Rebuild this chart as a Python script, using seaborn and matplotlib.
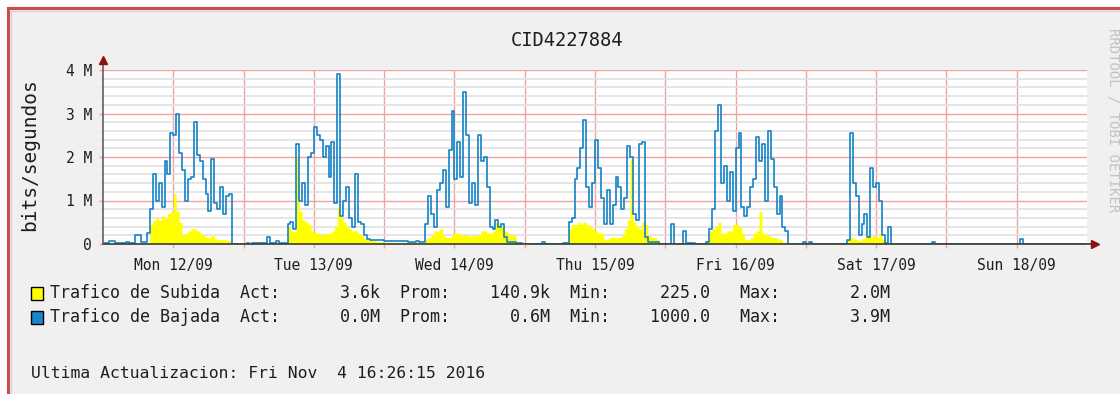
import numpy as np
import pandas as pd
import matplotlib
matplotlib.use("Agg")
import matplotlib.pyplot as plt
from matplotlib.patches import Rectangle
import seaborn as sns

# ---------------------------------------------------------------
# Traffic samples, one value every 30 minutes, in Mbit/s
# (week Mon 12/09 00:00 -> Mon 19/09 00:00)
# ---------------------------------------------------------------
bajada_lun = [0.02, 0.02, 0.08, 0.08, 0.02, 0.02, 0.02, 0.02, 0.04, 0.02,
              0.03, 0.20, 0.20, 0.05, 0.05, 0.25, 0.80, 1.60, 1.00, 1.40,
              0.85, 1.90, 1.60, 2.55, 2.50, 3.00, 2.10, 1.70, 1.00, 1.50,
              1.55, 2.80, 2.05, 1.90, 1.50, 1.15, 0.75, 1.95, 0.95, 0.80,
              1.30, 0.70, 1.10, 1.15, 0.003, 0.003, 0.003, 0.003]
bajada_mar = [0.003, 0.03, 0.003, 0.02, 0.02, 0.02, 0.02, 0.02, 0.15, 0.03,
              0.03, 0.06, 0.03, 0.03, 0.03, 0.45, 0.50, 0.35, 2.30, 1.00,
              1.40, 0.90, 2.00, 2.10, 2.70, 2.50, 2.40, 2.00, 2.25, 1.55,
              2.35, 0.95, 3.90, 0.65, 1.00, 1.30, 0.60, 0.40, 1.60, 0.50,
              0.45, 0.20, 0.12, 0.10, 0.10, 0.10, 0.10, 0.10]
bajada_mie = [0.08, 0.08, 0.07, 0.07, 0.06, 0.06, 0.07, 0.06, 0.05, 0.05,
              0.05, 0.06, 0.05, 0.05, 0.45, 1.10, 0.70, 0.40, 1.25, 1.40,
              1.70, 0.85, 2.15, 3.05, 1.50, 2.35, 1.55, 3.50, 2.50, 0.95,
              1.40, 0.90, 2.50, 1.90, 2.00, 1.30, 0.40, 0.35, 0.55, 0.40,
              0.45, 0.15, 0.05, 0.05, 0.04, 0.03, 0.02, 0.003]
bajada_jue = [0.003, 0.003, 0.003, 0.003, 0.003, 0.003, 0.05, 0.003, 0.003, 0.003,
              0.003, 0.003, 0.003, 0.03, 0.03, 0.50, 0.60, 1.50, 1.75, 2.20,
              2.85, 1.30, 0.85, 1.40, 2.40, 1.75, 1.05, 0.45, 1.25, 0.45,
              0.90, 1.55, 1.30, 0.80, 1.05, 2.25, 2.00, 0.70, 0.55, 2.30,
              2.35, 0.15, 0.05, 0.05, 0.05, 0.05, 0.003, 0.003]
bajada_vie = [0.003, 0.003, 0.45, 0.003, 0.003, 0.003, 0.30, 0.02, 0.02, 0.02,
              0.003, 0.003, 0.003, 0.003, 0.05, 0.35, 0.80, 2.60, 3.20, 1.40,
              1.80, 1.00, 1.65, 0.75, 2.20, 2.55, 0.85, 0.65, 0.85, 1.30,
              1.50, 2.45, 1.90, 2.30, 1.00, 2.60, 1.95, 1.30, 0.70, 1.10,
              0.40, 0.30, 0.003, 0.003, 0.003, 0.003, 0.003, 0.05]
bajada_sab = [0.003, 0.04, 0.003, 0.003, 0.003, 0.003, 0.003, 0.003, 0.003, 0.003,
              0.003, 0.003, 0.003, 0.003, 0.10, 2.55, 1.40, 1.10, 0.20, 0.45,
              0.70, 0.15, 1.75, 1.30, 1.40, 1.00, 0.20, 0.02, 0.40, 0.003,
              0.003, 0.003, 0.003, 0.003, 0.003, 0.003, 0.003, 0.003, 0.003, 0.003,
              0.003, 0.003, 0.003, 0.05, 0.003, 0.003, 0.003, 0.003]
bajada_dom = [0.003, 0.003, 0.003, 0.003, 0.003, 0.003, 0.003, 0.003, 0.003, 0.003,
              0.003, 0.003, 0.003, 0.003, 0.003, 0.003, 0.003, 0.003, 0.003, 0.003,
              0.003, 0.003, 0.003, 0.003, 0.003, 0.12, 0.003, 0.003, 0.003, 0.003,
              0.003, 0.003, 0.003, 0.003, 0.003, 0.003, 0.003, 0.003, 0.003, 0.003,
              0.003, 0.003, 0.003, 0.003, 0.003, 0.003, 0.003, 0.003]

subida_lun = [0.01, 0.01, 0.01, 0.01, 0.01, 0.01, 0.01, 0.01, 0.02, 0.02,
              0.02, 0.02, 0.02, 0.01, 0.01, 0.03, 0.45, 0.55, 0.60, 0.55,
              0.65, 0.60, 0.70, 0.75, 1.15, 0.75, 0.50, 0.20, 0.25, 0.30,
              0.35, 0.35, 0.30, 0.25, 0.20, 0.15, 0.15, 0.20, 0.12, 0.10,
              0.10, 0.10, 0.08, 0.08, 0.005, 0.005, 0.005, 0.005]
subida_mar = [0.01, 0.01, 0.01, 0.01, 0.01, 0.01, 0.01, 0.01, 0.02, 0.01,
              0.01, 0.01, 0.01, 0.01, 0.01, 0.40, 0.30, 0.30, 2.00, 0.75,
              0.55, 0.50, 0.45, 0.30, 0.25, 0.25, 0.20, 0.25, 0.22, 0.25,
              0.30, 0.40, 0.85, 0.60, 0.50, 0.40, 0.35, 0.30, 0.30, 0.25,
              0.20, 0.12, 0.10, 0.10, 0.08, 0.06, 0.05, 0.05]
subida_mie = [0.04, 0.04, 0.04, 0.04, 0.03, 0.03, 0.04, 0.04, 0.03, 0.03,
              0.03, 0.03, 0.03, 0.03, 0.12, 0.15, 0.20, 0.30, 0.30, 0.35,
              0.20, 0.15, 0.15, 0.22, 0.25, 0.25, 0.20, 0.20, 0.20, 0.18,
              0.20, 0.20, 0.20, 0.30, 0.30, 0.25, 0.25, 0.30, 0.50, 0.45,
              0.40, 0.30, 0.25, 0.20, 0.20, 0.05, 0.01, 0.005]
subida_jue = [0.01, 0.01, 0.01, 0.01, 0.01, 0.01, 0.02, 0.01, 0.01, 0.01,
              0.01, 0.01, 0.01, 0.02, 0.05, 0.35, 0.45, 0.45, 0.50, 0.45,
              0.50, 0.45, 0.40, 0.35, 0.30, 0.25, 0.25, 0.10, 0.12, 0.15,
              0.15, 0.15, 0.15, 0.20, 0.35, 0.55, 1.95, 0.50, 0.40, 0.35,
              0.50, 0.45, 0.20, 0.15, 0.15, 0.10, 0.01, 0.01]
subida_vie = [0.01, 0.01, 0.01, 0.01, 0.01, 0.01, 0.01, 0.01, 0.01, 0.01,
              0.01, 0.01, 0.01, 0.01, 0.10, 0.30, 0.35, 0.40, 0.50, 0.25,
              0.25, 0.30, 0.30, 0.45, 0.45, 0.40, 0.25, 0.10, 0.10, 0.15,
              0.25, 0.30, 0.75, 0.25, 0.22, 0.20, 0.15, 0.15, 0.12, 0.10,
              0.05, 0.01, 0.01, 0.01, 0.01, 0.01, 0.01, 0.01]
subida_sab = [0.01, 0.01, 0.01, 0.01, 0.01, 0.01, 0.01, 0.01, 0.01, 0.01,
              0.01, 0.01, 0.01, 0.01, 0.10, 0.15, 0.12, 0.10, 0.08, 0.12,
              0.15, 0.20, 0.18, 0.20, 0.15, 0.25, 0.10, 0.01, 0.01, 0.01,
              0.01, 0.01, 0.01, 0.01, 0.01, 0.01, 0.01, 0.01, 0.01, 0.01,
              0.01, 0.01, 0.01, 0.01, 0.01, 0.01, 0.01, 0.01]
subida_dom = [0.005, 0.005, 0.005, 0.005, 0.005, 0.005, 0.005, 0.005, 0.005, 0.005,
              0.005, 0.005, 0.005, 0.005, 0.005, 0.005, 0.005, 0.005, 0.005, 0.005,
              0.005, 0.005, 0.005, 0.005, 0.005, 0.005, 0.005, 0.005, 0.005, 0.005,
              0.005, 0.005, 0.005, 0.005, 0.005, 0.005, 0.005, 0.005, 0.005, 0.005,
              0.005, 0.005, 0.005, 0.005, 0.005, 0.005, 0.005, 0.0036]

dias = ["Mon 12/09", "Tue 13/09", "Wed 14/09", "Thu 15/09",
        "Fri 16/09", "Sat 17/09", "Sun 18/09"]
y_ticks = [0, 1, 2, 3, 4]
y_labels = ["0", "1 M", "2 M", "3 M", "4 M"]

titulo = "CID4227884"
eje_y = "bits/segundos"
leyenda_subida = "Trafico de Subida  Act:      3.6k  Prom:    140.9k  Min:     225.0   Max:       2.0M"
leyenda_bajada = "Trafico de Bajada  Act:      0.0M  Prom:      0.6M  Min:    1000.0   Max:       3.9M"
pie = "Ultima Actualizacion: Fri Nov  4 16:26:15 2016"
marca = "RRDTOOL / TOBI OETIKER"

# ---------------------------------------------------------------
subida = np.array(subida_lun + subida_mar + subida_mie + subida_jue
                  + subida_vie + subida_sab + subida_dom)
bajada = np.array(bajada_lun + bajada_mar + bajada_mie + bajada_jue
                  + bajada_vie + bajada_sab + bajada_dom)
horas = np.arange(len(bajada)) * 0.5
df = pd.DataFrame({
    "hora": np.append(horas, horas[-1] + 0.5),
    "subida": np.append(subida, subida[-1]),
    "bajada": np.append(bajada, bajada[-1]),
})

W, H, DPI = 1120, 394, 100
MONO = "DejaVu Sans Mono"
TXT = "#1e1e1e"

fig = plt.figure(figsize=(W / DPI, H / DPI), dpi=DPI, facecolor="white")


def fx(x):
    return x / W


def fy(y):
    return 1 - y / H


# panel with red frame
fig.add_artist(Rectangle((fx(8), -0.1), 1.2, fy(8) + 0.1, transform=fig.transFigure,
                         facecolor="#f0f0f0", edgecolor="#cf4a4a", lw=2.2, zorder=0))
fig.add_artist(Rectangle((fx(11), -0.1), 1.2, fy(11) + 0.1, transform=fig.transFigure,
                         facecolor="none", edgecolor="#d4d4d4", lw=1.0, zorder=0.5))

ax = fig.add_axes([fx(103), fy(244), 984 / W, 174 / H])
ax.set_facecolor("white")

# upload as a filled area, download as a stepped line on top
ax.fill_between(df["hora"], 0, df["subida"], step="post", color="#ffff00",
                lw=0, zorder=2)
sns.lineplot(data=df, x="hora", y="bajada", drawstyle="steps-post",
             color="#1b87c9", lw=1.25, ax=ax, zorder=3, legend=False)

ax.set_xlim(0, 168)
ax.set_ylim(0, 4)
ax.set_xlabel("")
ax.set_ylabel("")
for s in ax.spines.values():
    s.set_visible(False)

# grid: light grey every 0.2 M, red every 1 M and every 12 h
ax.set_yticks(np.arange(0, 4.01, 0.2), minor=True)
ax.set_yticks(y_ticks)
ax.set_yticklabels(y_labels, family=MONO, fontsize=10.5, color=TXT)
xt = np.arange(12, 168, 12)
ax.set_xticks(xt)
ax.set_xticklabels([dias[int(h) // 24] if int(h) % 24 == 12 else "" for h in xt],
                   family=MONO, fontsize=10.5, color=TXT)
ax.grid(which="minor", axis="y", color="#e0e0e0", lw=1.2, zorder=0)
ax.grid(which="major", axis="both", color="#f2a2a2", lw=1.0, zorder=0.5)
ax.set_axisbelow(True)
ax.tick_params(axis="x", which="major", length=3, width=1, color="#f2a2a2",
               pad=7, direction="out")
ax.tick_params(axis="y", which="major", length=3, width=1, color="#f2a2a2", pad=5)
ax.tick_params(axis="y", which="minor", length=2, width=1, color="#e0e0e0")

# axes with arrow heads
ax.plot([0, 168.6], [0, 0], color="#3a3a3a", lw=1.2, clip_on=False, zorder=4)
ax.plot([0, 0], [0, 4.18], color="#6a5a5a", lw=1.2, clip_on=False, zorder=4)
ax.plot([169.4], [0], marker=">", ms=6, color="#8b1010", clip_on=False, zorder=5)
ax.plot([0], [4.22], marker="^", ms=6, color="#8b1010", clip_on=False, zorder=5)

# texts
fig.text(fx(567), fy(41), titulo, family=MONO, fontsize=13.5, color=TXT,
         ha="center", va="center")
fig.text(fx(30), fy(155), eje_y, family=MONO, fontsize=14, color=TXT,
         rotation=90, ha="center", va="center")
fig.text(fx(1114), fy(120), marca, family=MONO, fontsize=10, color="#c2c2c2",
         rotation=270, ha="center", va="center")

fig.add_artist(Rectangle((fx(31), fy(300)), 12 / W, 13 / H, transform=fig.transFigure,
                         facecolor="#ffff00", edgecolor="black", lw=1.0))
fig.add_artist(Rectangle((fx(31), fy(324)), 12 / W, 13 / H, transform=fig.transFigure,
                         facecolor="#1b87c9", edgecolor="black", lw=1.0))
fig.text(fx(50), fy(293), leyenda_subida, family=MONO, fontsize=12, color=TXT,
         ha="left", va="center")
fig.text(fx(50), fy(317), leyenda_bajada, family=MONO, fontsize=12, color=TXT,
         ha="left", va="center")
fig.text(fx(31), fy(374), pie, family=MONO, fontsize=11.8, color=TXT,
         ha="left", va="center")

fig.savefig("out.png", dpi=DPI, facecolor="white")
